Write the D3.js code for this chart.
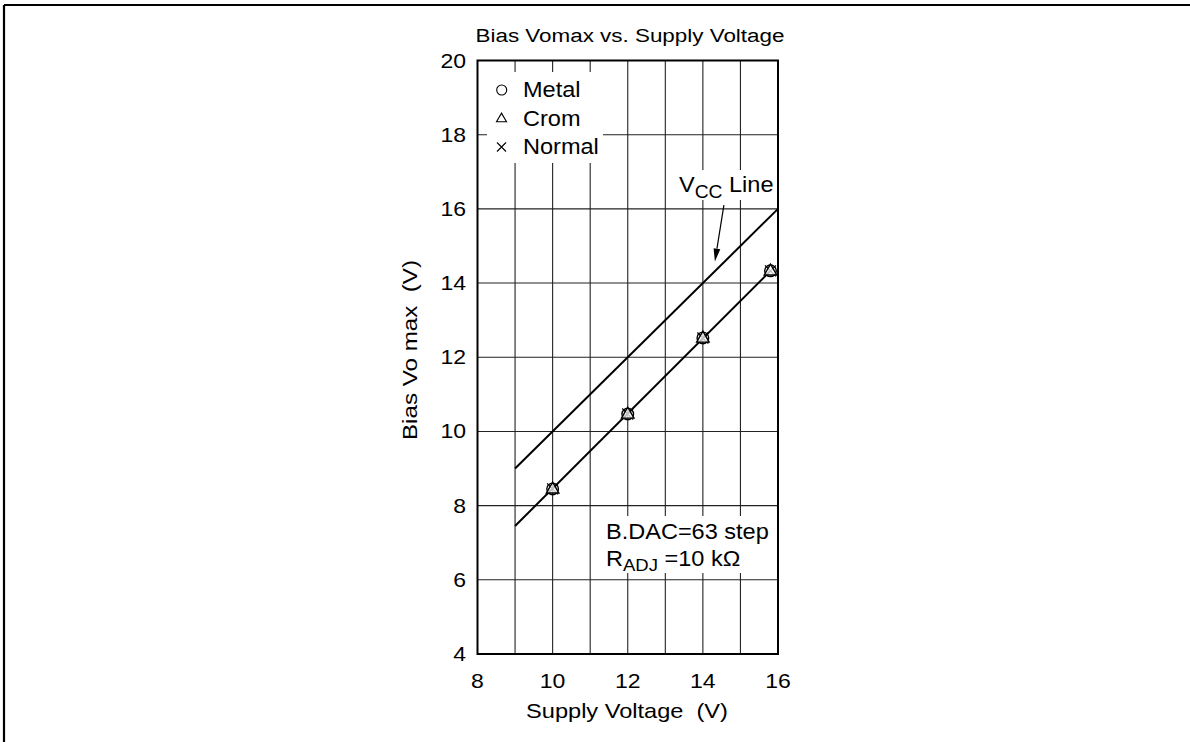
<!DOCTYPE html>
<html>
<head>
<meta charset="utf-8">
<script src="https://cdn.jsdelivr.net/npm/d3@7"></script>
<style>
  html, body { margin: 0; padding: 0; background: #fff; }
  text { font-family: "Liberation Sans", Arial, Helvetica, sans-serif; fill: #000; white-space: pre; }
</style>
</head>
<body>
<svg id="chart" width="1190" height="742"></svg>
<script>
// ---- data ----
const chartTitle = "Bias Vomax vs. Supply Voltage";
const xTitle = "Supply Voltage  (V)";
const yTitle = "Bias Vo max  (V)";
const xTicks = [8, 10, 12, 14, 16];
const yTicks = [4, 6, 8, 10, 12, 14, 16, 18, 20];
const xGrid = [9, 10, 11, 12, 13, 14, 15];
const yGrid = [6, 8, 10, 12, 14, 16, 18];
const supplyV = [10, 12, 14, 15.8];
const metal = [8.45, 10.47, 12.52, 14.33];
const crom = [8.45, 10.47, 12.52, 14.33];
const normal = [8.45, 10.47, 12.52, 14.33];
const biasLineX = [9, 15.8];
const biasLineY = [7.45, 14.33];
const vccLineX = [9, 16];
const vccLineY = [9, 16];
const arrowFrom = [14.56, 16.1];
const arrowTo = [14.32, 14.58];
const legendNames = ["Metal", "Crom", "Normal"];
const noteLine1 = "B.DAC=63 step";

// ---- setup ----
const svg = d3.select("#chart");
const SX = 1.18;  // wide glyph factor (axes text)
const SXN = 1.07; // glyph factor (legend / notes)
const x = d3.scaleLinear().domain([8, 16]).range([477.5, 778]);
const y = d3.scaleLinear().domain([4, 20]).range([654, 60.5]);

function txt(g, px, py, str, size, anchor, rot, sx) {
  return g.append("text")
    .attr("transform", `translate(${px},${py})` + (rot ? ` rotate(${rot})` : "") + ` scale(${sx || SX},1)`)
    .attr("font-size", size)
    .attr("text-anchor", anchor || "start")
    .text(str);
}

// page frame (top + left)
svg.append("line").attr("x1", 4).attr("x2", 1190).attr("y1", 5).attr("y2", 5).attr("stroke", "#000").attr("stroke-width", 2.2);
svg.append("line").attr("x1", 4).attr("x2", 4).attr("y1", 5).attr("y2", 742).attr("stroke", "#000").attr("stroke-width", 2.2);

// grid
const grid = svg.append("g");
grid.selectAll(".vg").data(xGrid).join("line")
  .attr("x1", d => x(d)).attr("x2", d => x(d)).attr("y1", y(20)).attr("y2", y(4))
  .attr("stroke", "#222").attr("stroke-width", 1.1);
grid.selectAll(".hg").data(yGrid).join("line")
  .attr("x1", x(8)).attr("x2", x(16)).attr("y1", d => y(d)).attr("y2", d => y(d))
  .attr("stroke", "#222").attr("stroke-width", 1.1);

// white boxes (legend, Vcc label, note)
svg.append("rect").attr("x", 487).attr("y", 72).attr("width", 116).attr("height", 91).attr("fill", "#fff");
svg.append("rect").attr("x", 676).attr("y", 170).attr("width", 99).attr("height", 30).attr("fill", "#fff");
svg.append("rect").attr("x", 603).attr("y", 516).attr("width", 169).attr("height", 57).attr("fill", "#fff");

// frame
svg.append("rect").attr("x", x(8)).attr("y", y(20)).attr("width", x(16) - x(8)).attr("height", y(4) - y(20))
  .attr("fill", "none").attr("stroke", "#000").attr("stroke-width", 2);

// axes tick labels
const tg = svg.append("g");
xTicks.forEach(t => txt(tg, x(t), 688, String(t), 19.5, "middle"));
yTicks.forEach(t => txt(tg, 466, y(t) + 7, String(t), 19.5, "end"));

// titles
txt(svg, 630, 41.5, chartTitle, 19, "middle");
txt(svg, 627, 718, xTitle, 20, "middle");
txt(svg, 417, 350, yTitle, 20.5, "middle", -90);

// lines
const line = d3.line().x(d => x(d[0])).y(d => y(d[1]));
svg.append("path").datum(vccLineX.map((v, i) => [v, vccLineY[i]])).attr("d", line)
  .attr("fill", "none").attr("stroke", "#000").attr("stroke-width", 2);
svg.append("path").datum(biasLineX.map((v, i) => [v, biasLineY[i]])).attr("d", line)
  .attr("fill", "none").attr("stroke", "#000").attr("stroke-width", 2);

// markers
function triPath(cx, cy, s) {
  const h = s * 0.87;
  return `M${cx},${cy - h * 0.62}L${cx + s / 2},${cy + h * 0.38}L${cx - s / 2},${cy + h * 0.38}Z`;
}
function crossPath(cx, cy, s) {
  const h = s / 2;
  return `M${cx - h},${cy - h}L${cx + h},${cy + h}M${cx - h},${cy + h}L${cx + h},${cy - h}`;
}
const mk = svg.append("g");
supplyV.forEach((v, i) => {
  mk.append("path").attr("d", crossPath(x(v), y(normal[i]), 11)).attr("stroke", "#000").attr("stroke-width", 1.2).attr("fill", "none");
  mk.append("circle").attr("cx", x(v)).attr("cy", y(metal[i])).attr("r", 5.8).attr("fill", "none").attr("stroke", "#000").attr("stroke-width", 1.4);
  mk.append("path").attr("d", triPath(x(v), y(crom[i]), 12.5)).attr("fill", "#fff").attr("fill-opacity", 0.75).attr("stroke", "#000").attr("stroke-width", 1.4);
});

// legend
const lg = svg.append("g");
const legY = [90, 118.5, 147];
lg.append("circle").attr("cx", 501.7).attr("cy", legY[0]).attr("r", 5).attr("fill", "none").attr("stroke", "#000").attr("stroke-width", 1.1);
lg.append("path").attr("d", triPath(501.5, legY[1], 10)).attr("fill", "none").attr("stroke", "#000").attr("stroke-width", 1.1);
lg.append("path").attr("d", crossPath(501.5, legY[2], 9)).attr("fill", "none").attr("stroke", "#000").attr("stroke-width", 1.1);
legendNames.forEach((n, i) => txt(lg, 523, legY[i] + 7, n, 22, "start", 0, SXN));

// Vcc label
const vt = svg.append("text")
  .attr("transform", `translate(679,192) scale(${SXN},1)`).attr("font-size", 22);
vt.append("tspan").text("V");
vt.append("tspan").attr("font-size", 18).attr("dy", 6).text("CC");
vt.append("tspan").attr("dy", -6).text(" Line");

// arrow
const ax1 = x(arrowFrom[0]), ay1 = y(arrowFrom[1]), ax2 = x(arrowTo[0]), ay2 = y(arrowTo[1]);
const ang = Math.atan2(ay2 - ay1, ax2 - ax1);
const hl = 13, hw = 3.4;
const bx = ax2 - hl * Math.cos(ang), by = ay2 - hl * Math.sin(ang);
svg.append("line").attr("x1", ax1).attr("y1", ay1).attr("x2", bx).attr("y2", by).attr("stroke", "#000").attr("stroke-width", 1.2);
svg.append("path")
  .attr("d", `M${ax2},${ay2}L${bx + hw * Math.sin(ang)},${by - hw * Math.cos(ang)}L${bx - hw * Math.sin(ang)},${by + hw * Math.cos(ang)}Z`)
  .attr("fill", "#000");

// note
txt(svg, 606, 539, noteLine1, 22, "start", 0, SXN);
const nt = svg.append("text")
  .attr("transform", `translate(606,566) scale(${SXN},1)`).attr("font-size", 22);
nt.append("tspan").text("R");
nt.append("tspan").attr("font-size", 17.3).attr("dy", 5).text("ADJ");
nt.append("tspan").attr("dy", -5).text(" =10 k\u03A9");
</script>
</body>
</html>
